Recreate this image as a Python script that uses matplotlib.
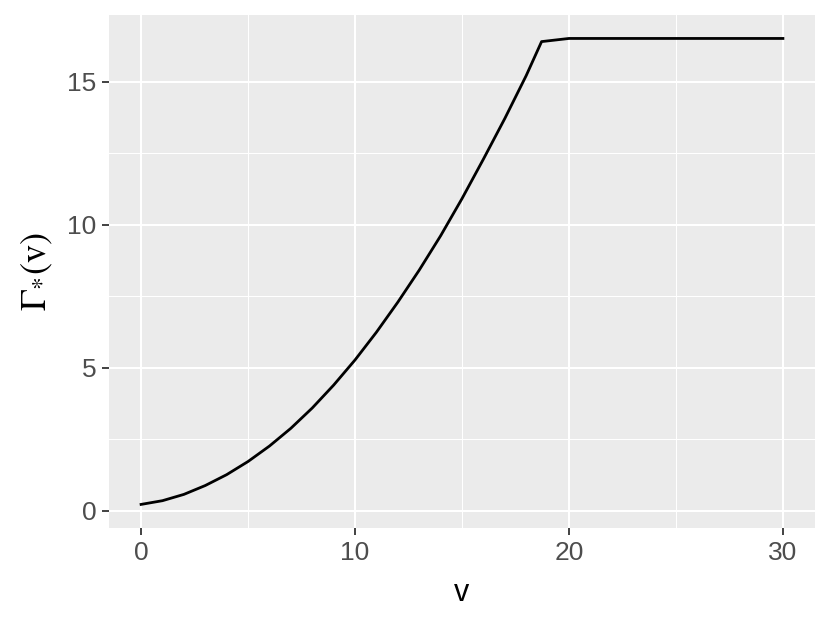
import matplotlib
matplotlib.use("Agg")
import matplotlib.pyplot as plt

# values
v = [0, 1, 2, 3, 4, 5, 6, 7, 8, 9, 10, 11, 12, 13, 14, 15, 16, 17, 18, 18.72, 20, 25, 30]
gamma = [0.23, 0.36, 0.58, 0.89, 1.27, 1.73, 2.27, 2.89, 3.60, 4.40, 5.28, 6.25,
         7.30, 8.42, 9.62, 10.92, 12.30, 13.72, 15.22, 16.41, 16.52, 16.52, 16.52]

x_major = [0, 10, 20, 30]
x_minor = [5, 15, 25]
y_major = [0, 5, 10, 15]
y_minor = [2.5, 7.5, 12.5]

plt.rcParams['mathtext.fontset'] = 'stix'
plt.rcParams['font.family'] = ['Liberation Sans', 'DejaVu Sans']

fig = plt.figure(figsize=(8.3, 6.23), dpi=100)
ax = fig.add_axes([109 / 830, 1 - 528 / 623, (815 - 109) / 830, (528 - 15) / 623])
ax.set_facecolor("#EBEBEB")
for s in ax.spines.values():
    s.set_visible(False)

ax.set_xlim(-1.5, 31.5)
ax.set_ylim(-0.595, 17.34)
ax.set_xticks(x_major)
ax.set_xticks(x_minor, minor=True)
ax.set_yticks(y_major)
ax.set_yticks(y_minor, minor=True)
ax.grid(which="major", color="white", linewidth=1.5)
ax.grid(which="minor", color="white", linewidth=0.75)
ax.set_axisbelow(True)
ax.tick_params(which="major", length=5, width=1.3, color="#333333",
               labelcolor="#4D4D4D", labelsize=19, pad=4)
ax.tick_params(which="minor", length=0)

ax.plot(v, gamma, color="black", linewidth=2.0)

ax.set_xlabel("v", fontsize=22, labelpad=10)
ax.set_ylabel(r"$\Gamma_{*}(\mathrm{v})$", fontsize=26, labelpad=9)

fig.savefig("out.png", dpi=100)
